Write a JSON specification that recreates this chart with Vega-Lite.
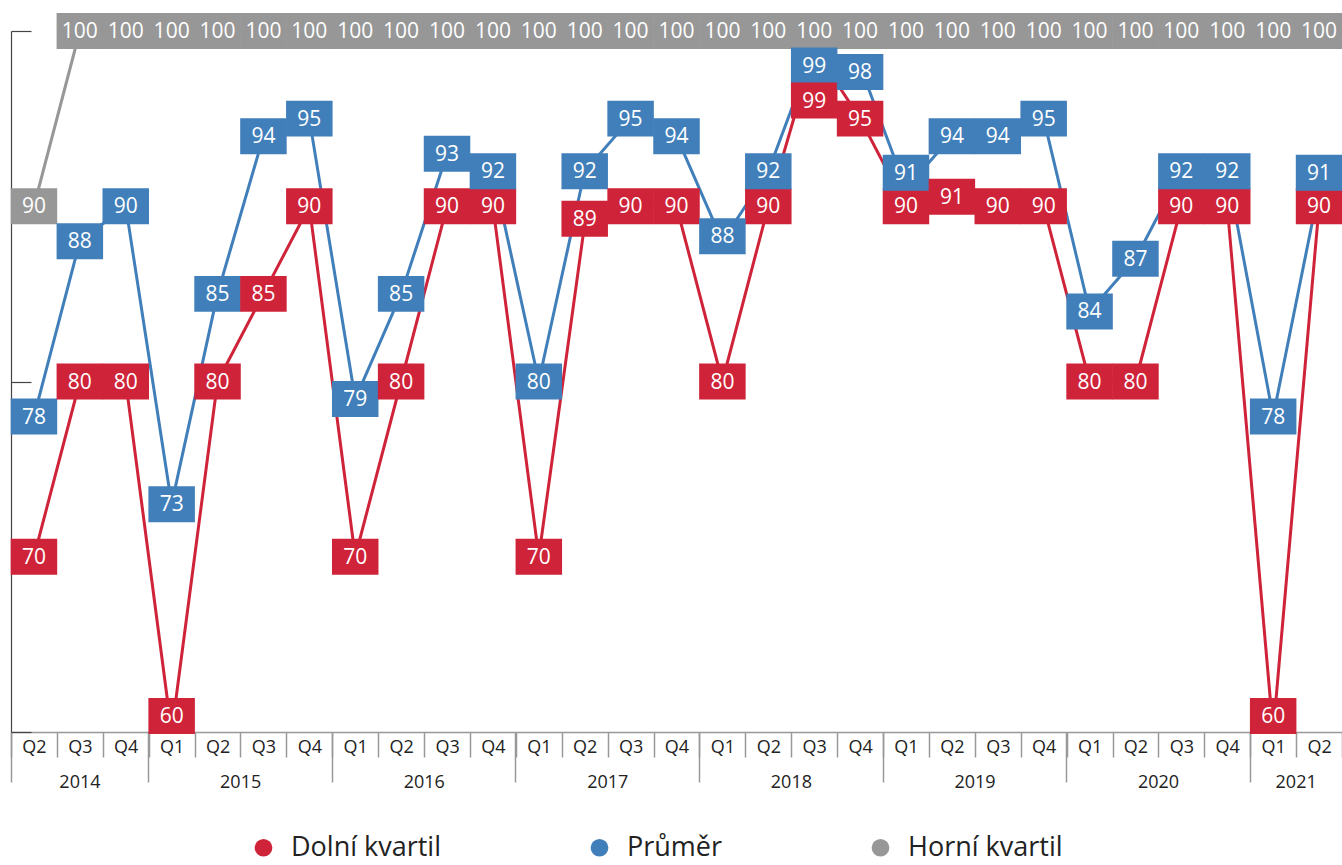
{
  "$schema": "https://vega.github.io/schema/vega-lite/v6.json",
  "width": 1331,
  "height": 701,
  "autosize": {"type": "none"},
  "padding": {"left": 11, "top": 31, "right": 0, "bottom": 133},
  "background": "white",
  "config": {"view": {"stroke": null}, "font": "Open Sans", "axis": {"grid": false}},
  "data": {"values": [
    {"q": "2014 Q2", "Dolní kvartil": 70, "Průměr": 78, "Horní kvartil": 90},
    {"q": "2014 Q3", "Dolní kvartil": 80, "Průměr": 88, "Horní kvartil": 100},
    {"q": "2014 Q4", "Dolní kvartil": 80, "Průměr": 90, "Horní kvartil": 100},
    {"q": "2015 Q1", "Dolní kvartil": 60, "Průměr": 73, "Horní kvartil": 100},
    {"q": "2015 Q2", "Dolní kvartil": 80, "Průměr": 85, "Horní kvartil": 100},
    {"q": "2015 Q3", "Dolní kvartil": 85, "Průměr": 94, "Horní kvartil": 100},
    {"q": "2015 Q4", "Dolní kvartil": 90, "Průměr": 95, "Horní kvartil": 100},
    {"q": "2016 Q1", "Dolní kvartil": 70, "Průměr": 79, "Horní kvartil": 100},
    {"q": "2016 Q2", "Dolní kvartil": 80, "Průměr": 85, "Horní kvartil": 100},
    {"q": "2016 Q3", "Dolní kvartil": 90, "Průměr": 93, "Horní kvartil": 100},
    {"q": "2016 Q4", "Dolní kvartil": 90, "Průměr": 92, "Horní kvartil": 100},
    {"q": "2017 Q1", "Dolní kvartil": 70, "Průměr": 80, "Horní kvartil": 100},
    {"q": "2017 Q2", "Dolní kvartil": 89, "Průměr": 92, "Horní kvartil": 100},
    {"q": "2017 Q3", "Dolní kvartil": 90, "Průměr": 95, "Horní kvartil": 100},
    {"q": "2017 Q4", "Dolní kvartil": 90, "Průměr": 94, "Horní kvartil": 100},
    {"q": "2018 Q1", "Dolní kvartil": 80, "Průměr": 88, "Horní kvartil": 100},
    {"q": "2018 Q2", "Dolní kvartil": 90, "Průměr": 92, "Horní kvartil": 100},
    {"q": "2018 Q3", "Dolní kvartil": 99, "Průměr": 99, "Horní kvartil": 100},
    {"q": "2018 Q4", "Dolní kvartil": 95, "Průměr": 98, "Horní kvartil": 100},
    {"q": "2019 Q1", "Dolní kvartil": 90, "Průměr": 91, "Horní kvartil": 100},
    {"q": "2019 Q2", "Dolní kvartil": 91, "Průměr": 94, "Horní kvartil": 100},
    {"q": "2019 Q3", "Dolní kvartil": 90, "Průměr": 94, "Horní kvartil": 100},
    {"q": "2019 Q4", "Dolní kvartil": 90, "Průměr": 95, "Horní kvartil": 100},
    {"q": "2020 Q1", "Dolní kvartil": 80, "Průměr": 84, "Horní kvartil": 100},
    {"q": "2020 Q2", "Dolní kvartil": 80, "Průměr": 87, "Horní kvartil": 100},
    {"q": "2020 Q3", "Dolní kvartil": 90, "Průměr": 92, "Horní kvartil": 100},
    {"q": "2020 Q4", "Dolní kvartil": 90, "Průměr": 92, "Horní kvartil": 100},
    {"q": "2021 Q1", "Dolní kvartil": 60, "Průměr": 78, "Horní kvartil": 100},
    {"q": "2021 Q2", "Dolní kvartil": 90, "Průměr": 91, "Horní kvartil": 100}
  ]},
  "transform": [{"fold": ["Dolní kvartil", "Průměr", "Horní kvartil"], "as": ["s", "v"]}],
  "encoding": {
    "y": {"field": "v", "type": "quantitative",
      "scale": {"domain": [60, 100], "nice": false, "zero": false},
      "axis": {"values": [60, 80, 100], "labels": false, "title": null, "tickSize": -20, "domainColor": "#444", "tickColor": "#444", "domainWidth": 1.2, "tickWidth": 1.2, "grid": false}}
  },
  "resolve": {"axis": {"x": "independent"}},
  "layer": [
    {
      "mark": {"type": "line", "strokeWidth": 3, "strokeJoin": "round"},
      "encoding": {
        "x": {"field": "q", "type": "ordinal", "scale": {"type": "band", "paddingInner": 0, "paddingOuter": 0},
          "axis": {"title": null, "orient": "bottom", "labelExpr": "isValid(datum.value) ? substring(datum.value, 5) : ''", "tickBand": "extent", "tickSize": 25, "tickColor": "#999", "tickWidth": 1.5, "domainColor": "#999", "domainWidth": 1.5, "labelFont": "Open Sans", "labelFontSize": 18, "labelColor": "#222", "labelAngle": 0, "labelPadding": -10, "labelBaseline": "middle", "labelOverlap": false, "labelFlush": false}},
        "color": {"field": "s", "type": "nominal", "scale": {"domain": ["Dolní kvartil", "Průměr", "Horní kvartil"], "range": ["#cf2339", "#417fba", "#979797"]}}
      }
    },
    {
      "transform": [{"filter": "indexof(['Průměr|2019 Q1','Průměr|2021 Q2','Dolní kvartil|2015 Q1','Dolní kvartil|2021 Q1','Průměr|2018 Q3','Dolní kvartil|2018 Q3','Průměr|2018 Q4','Dolní kvartil|2019 Q2','Průměr|2018 Q1','Dolní kvartil|2017 Q2'], datum.s + '|' + datum.q) < 0"}],
      "layer": [
        {
          "mark": {"type": "point", "shape": "M-1,-0.774L1,-0.774L1,0.774L-1,0.774Z", "filled": true, "size": 2162, "opacity": 1, "strokeWidth": 0},
          "encoding": {
            "x": {"field": "q", "type": "ordinal", "scale": {"type": "band", "paddingInner": 0, "paddingOuter": 0},
              "axis": {"title": null, "orient": "bottom", "values": ["2014 Q2", "2015 Q1", "2016 Q1", "2017 Q1", "2018 Q1", "2019 Q1", "2020 Q1", "2021 Q1"], "bandPosition": 0, "domain": false, "tickSize": 50, "tickColor": "#999", "tickWidth": 1.5, "labelExpr": "isValid(datum.value) ? substring(datum.value, 0, 4) : ''", "labelFont": "Open Sans", "labelFontSize": 18, "labelColor": "#222", "labelPadding": 0, "labelBaseline": "middle", "labelAngle": 0, "labelOverlap": false, "labelFlush": false,
                "labelOffset": {"condition": [{"test": "datum.value == '2014 Q2'", "value": 46}, {"test": "datum.value == '2021 Q1'", "value": 23}], "value": 69}}},
            "color": {"field": "s", "type": "nominal", "scale": {"domain": ["Dolní kvartil", "Průměr", "Horní kvartil"], "range": ["#cf2339", "#417fba", "#979797"]},
              "legend": {"title": null, "orient": "none", "legendX": 239, "legendY": 803, "direction": "horizontal", "symbolType": "circle", "symbolSize": 314, "symbolStrokeWidth": 0, "symbolOpacity": 1, "labelFont": "Open Sans", "labelFontSize": 27, "labelColor": "#222", "labelOffset": 14, "columnPadding": 144, "padding": 0, "labelLimit": 400}}
          }
        },
        {
          "mark": {"type": "text", "fontSize": 21, "font": "Open Sans", "baseline": "middle", "align": "center", "dy": 1},
          "encoding": {
            "x": {"field": "q", "type": "ordinal", "scale": {"type": "band", "paddingInner": 0, "paddingOuter": 0}},
            "text": {"field": "v"},
            "color": {"value": "white"}
          }
        }
      ]
    },
    {
      "transform": [{"filter": "indexof(['Průměr|2019 Q1','Průměr|2021 Q2','Dolní kvartil|2015 Q1','Dolní kvartil|2021 Q1'], datum.s + '|' + datum.q) >= 0"}],
      "layer": [
        {"mark": {"type": "point", "shape": "M-1,-0.774L1,-0.774L1,0.774L-1,0.774Z", "filled": true, "size": 2162, "opacity": 1, "strokeWidth": 0, "yOffset": -16},
         "encoding": {"x": {"field": "q", "type": "ordinal", "scale": {"type": "band", "paddingInner": 0, "paddingOuter": 0}, "axis": null},
           "color": {"field": "s", "type": "nominal", "scale": {"domain": ["Dolní kvartil", "Průměr", "Horní kvartil"], "range": ["#cf2339", "#417fba", "#979797"]}}}},
        {"mark": {"type": "text", "fontSize": 21, "font": "Open Sans", "baseline": "middle", "align": "center", "dy": 1, "yOffset": -16},
         "encoding": {"x": {"field": "q", "type": "ordinal", "scale": {"type": "band", "paddingInner": 0, "paddingOuter": 0}, "axis": null}, "text": {"field": "v"}, "color": {"value": "white"}}}
      ]
    },
    {
      "transform": [{"filter": "datum.s == 'Průměr' && datum.q == '2018 Q3'"}],
      "layer": [
        {"mark": {"type": "point", "shape": "M-1,-0.774L1,-0.774L1,0.774L-1,0.774Z", "filled": true, "size": 2162, "opacity": 1, "strokeWidth": 0, "yOffset": 17},
         "encoding": {"x": {"field": "q", "type": "ordinal", "scale": {"type": "band", "paddingInner": 0, "paddingOuter": 0}, "axis": null},
           "color": {"field": "s", "type": "nominal", "scale": {"domain": ["Dolní kvartil", "Průměr", "Horní kvartil"], "range": ["#cf2339", "#417fba", "#979797"]}}}},
        {"mark": {"type": "text", "fontSize": 21, "font": "Open Sans", "baseline": "middle", "align": "center", "dy": 1, "yOffset": 17},
         "encoding": {"x": {"field": "q", "type": "ordinal", "scale": {"type": "band", "paddingInner": 0, "paddingOuter": 0}, "axis": null}, "text": {"field": "v"}, "color": {"value": "white"}}}
      ]
    },
    {
      "transform": [{"filter": "datum.s == 'Dolní kvartil' && datum.q == '2018 Q3'"}],
      "layer": [
        {"mark": {"type": "point", "shape": "M-1,-0.774L1,-0.774L1,0.774L-1,0.774Z", "filled": true, "size": 2162, "opacity": 1, "strokeWidth": 0, "yOffset": 52},
         "encoding": {"x": {"field": "q", "type": "ordinal", "scale": {"type": "band", "paddingInner": 0, "paddingOuter": 0}, "axis": null},
           "color": {"field": "s", "type": "nominal", "scale": {"domain": ["Dolní kvartil", "Průměr", "Horní kvartil"], "range": ["#cf2339", "#417fba", "#979797"]}}}},
        {"mark": {"type": "text", "fontSize": 21, "font": "Open Sans", "baseline": "middle", "align": "center", "dy": 1, "yOffset": 52},
         "encoding": {"x": {"field": "q", "type": "ordinal", "scale": {"type": "band", "paddingInner": 0, "paddingOuter": 0}, "axis": null}, "text": {"field": "v"}, "color": {"value": "white"}}}
      ]
    },
    {
      "transform": [{"filter": "datum.s == 'Průměr' && datum.q == '2018 Q4'"}],
      "layer": [
        {"mark": {"type": "point", "shape": "M-1,-0.774L1,-0.774L1,0.774L-1,0.774Z", "filled": true, "size": 2162, "opacity": 1, "strokeWidth": 0, "yOffset": 6},
         "encoding": {"x": {"field": "q", "type": "ordinal", "scale": {"type": "band", "paddingInner": 0, "paddingOuter": 0}, "axis": null},
           "color": {"field": "s", "type": "nominal", "scale": {"domain": ["Dolní kvartil", "Průměr", "Horní kvartil"], "range": ["#cf2339", "#417fba", "#979797"]}}}},
        {"mark": {"type": "text", "fontSize": 21, "font": "Open Sans", "baseline": "middle", "align": "center", "dy": 1, "yOffset": 6},
         "encoding": {"x": {"field": "q", "type": "ordinal", "scale": {"type": "band", "paddingInner": 0, "paddingOuter": 0}, "axis": null}, "text": {"field": "v"}, "color": {"value": "white"}}}
      ]
    },
    {
      "transform": [{"filter": "datum.s == 'Dolní kvartil' && datum.q == '2019 Q2'"}],
      "layer": [
        {"mark": {"type": "point", "shape": "M-1,-0.774L1,-0.774L1,0.774L-1,0.774Z", "filled": true, "size": 2162, "opacity": 1, "strokeWidth": 0, "yOffset": 8},
         "encoding": {"x": {"field": "q", "type": "ordinal", "scale": {"type": "band", "paddingInner": 0, "paddingOuter": 0}, "axis": null},
           "color": {"field": "s", "type": "nominal", "scale": {"domain": ["Dolní kvartil", "Průměr", "Horní kvartil"], "range": ["#cf2339", "#417fba", "#979797"]}}}},
        {"mark": {"type": "text", "fontSize": 21, "font": "Open Sans", "baseline": "middle", "align": "center", "dy": 1, "yOffset": 8},
         "encoding": {"x": {"field": "q", "type": "ordinal", "scale": {"type": "band", "paddingInner": 0, "paddingOuter": 0}, "axis": null}, "text": {"field": "v"}, "color": {"value": "white"}}}
      ]
    },
    {
      "transform": [{"filter": "indexof(['Průměr|2018 Q1','Dolní kvartil|2017 Q2'], datum.s + '|' + datum.q) >= 0"}],
      "layer": [
        {"mark": {"type": "point", "shape": "M-1,-0.774L1,-0.774L1,0.774L-1,0.774Z", "filled": true, "size": 2162, "opacity": 1, "strokeWidth": 0, "yOffset": -5},
         "encoding": {"x": {"field": "q", "type": "ordinal", "scale": {"type": "band", "paddingInner": 0, "paddingOuter": 0}, "axis": null},
           "color": {"field": "s", "type": "nominal", "scale": {"domain": ["Dolní kvartil", "Průměr", "Horní kvartil"], "range": ["#cf2339", "#417fba", "#979797"]}}}},
        {"mark": {"type": "text", "fontSize": 21, "font": "Open Sans", "baseline": "middle", "align": "center", "dy": 1, "yOffset": -5},
         "encoding": {"x": {"field": "q", "type": "ordinal", "scale": {"type": "band", "paddingInner": 0, "paddingOuter": 0}, "axis": null}, "text": {"field": "v"}, "color": {"value": "white"}}}
      ]
    }
  ]
}
